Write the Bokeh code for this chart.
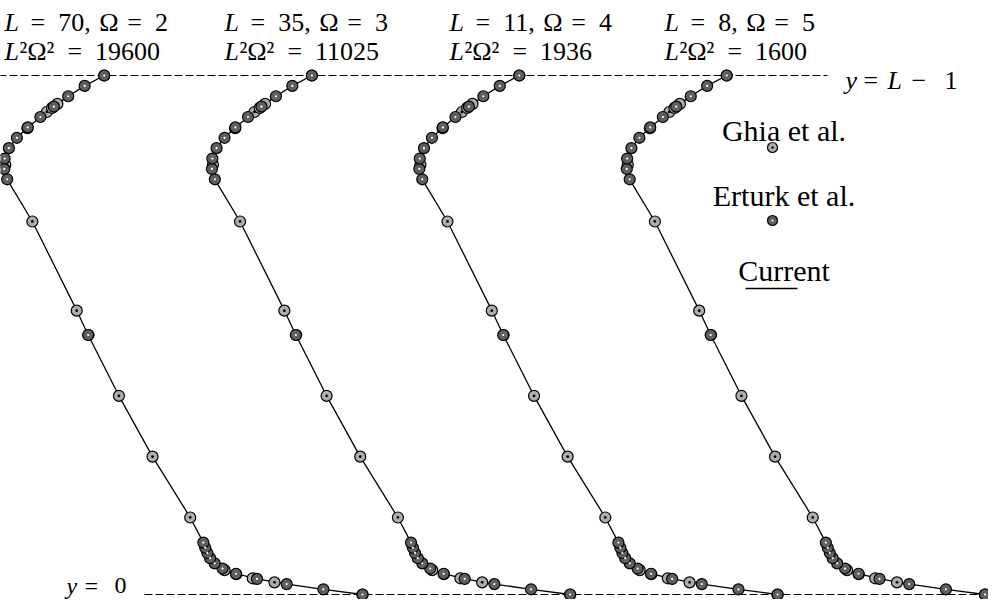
from bokeh.plotting import figure
from bokeh.models import Range1d, Label
from bokeh.embed import file_html
from bokeh.resources import INLINE

# ---- data (u-velocity profiles, y measured from the bottom wall) ----
ghia_y = [1.0000, 0.9766, 0.9688, 0.9609, 0.9531, 0.8516, 0.7344, 0.6172, 0.5000,
          0.4531, 0.2813, 0.1719, 0.1016, 0.0703, 0.0625, 0.0547, 0.0000]
ghia_u = [1.00000, 0.65928, 0.57492, 0.51117, 0.46604, 0.33304, 0.18719, 0.05702, -0.06080,
          -0.10648, -0.27805, -0.38289, -0.29730, -0.22220, -0.20196, -0.18109, 0.00000]

erturk_y = [1.000, 0.990, 0.980, 0.970, 0.960, 0.950, 0.940, 0.930, 0.920, 0.910, 0.900,
            0.500, 0.200, 0.180, 0.160, 0.140, 0.120, 0.100, 0.080, 0.060, 0.040, 0.020, 0.000]
erturk_u = [1.0000, 0.8486, 0.7065, 0.5917, 0.5102, 0.4582, 0.4276, 0.4101, 0.3993, 0.3913, 0.3838,
            -0.0620, -0.3756, -0.3869, -0.3854, -0.3690, -0.3381, -0.2960, -0.2472, -0.1951,
            -0.1392, -0.0757, 0.0000]

current_y = [0.0, 0.02, 0.04, 0.06, 0.08, 0.10, 0.12, 0.14, 0.16, 0.18, 0.20, 0.2813, 0.4531,
             0.50, 0.6172, 0.7344, 0.8516, 0.90, 0.91, 0.92, 0.93, 0.94, 0.95, 0.96, 0.97,
             0.98, 0.99, 1.0]
current_u = [0.0, -0.076, -0.139, -0.195, -0.247, -0.296, -0.338, -0.369, -0.385, -0.387,
             -0.376, -0.278, -0.106, -0.062, 0.057, 0.187, 0.333, 0.384, 0.391, 0.399, 0.410,
             0.428, 0.458, 0.510, 0.592, 0.707, 0.849, 1.0]

L_values = [70, 35, 11, 8]
omega_values = [2, 3, 4, 5]
l2o2_values = [19600, 11025, 1936, 1600]
shifts = [0.0, 0.804, 1.607, 2.41]

# ---- layout ----
W, H = 988, 599
X0_PX, UNIT_PX = 111.7, 258.3
TOP_PX, BOT_PX = 83.0, 602.0
FONT = "Liberation Serif"
LABEL_SIZE = "26px"
WALL_SIZE = "26px"
LEGEND_SIZE = "30px"
label_left_px = [12, 232, 457, 672]

EN = "\u2002"
THICK = "\u2004"


def X(px):
    return (px - X0_PX) / UNIT_PX


def Y(py):
    return (py - TOP_PX) / (BOT_PX - TOP_PX)


p = figure(width=W, height=H,
           x_range=Range1d(X(8), X(996)), y_range=Range1d(Y(607), Y(8)),
           x_axis_type=None, y_axis_type=None,
           output_backend="svg", toolbar_location=None, min_border=0)
p.grid.visible = False
p.outline_line_color = None
p.background_fill_color = "white"
p.border_fill_color = "white"

# dashed wall lines
p.line([X(6), X(835)], [0.0, 0.0], line_color="black", line_width=1.2, line_dash="8 3")
p.line([X(152), X(1010)], [1.0, 1.0], line_color="black", line_width=1.2, line_dash="8 3")

GHIA_FILL = "#adadad"
ERT_FILL = "#5f5f5f"
MS = 11

for s in shifts:
    p.line([u + s for u in current_u], current_y, line_color="black", line_width=1.3)
    p.scatter([u + s for u in ghia_u], ghia_y, marker="circle_dot", size=MS,
              fill_color=GHIA_FILL, line_color="black", line_width=1.2)
    p.scatter([u + s for u in erturk_u], erturk_y, marker="circle", size=MS,
              fill_color=ERT_FILL, line_color="black", line_width=1.2)
    p.scatter([u + s for u in erturk_u], erturk_y, marker="circle", size=2.2,
              fill_color="white", line_color=None)


def add_text(px, py, text, italic=False, size=LABEL_SIZE, align="left"):
    p.add_layout(Label(x=X(px), y=Y(py), text=text, text_font=FONT, text_font_size=size,
                       text_font_style="italic" if italic else "normal",
                       text_color="black", text_align=align, text_baseline="alphabetic"))


# profile headings
for lx, Lv, Ov, Pv in zip(label_left_px, L_values, omega_values, l2o2_values):
    add_text(lx, 30, "L", italic=True)
    add_text(lx + 13, 30, f"{EN}={EN}{Lv},{THICK}\u03a9{THICK}={EN}{Ov}")
    add_text(lx, 59, "L", italic=True)
    add_text(lx + 15, 59, f"\u00b2\u03a9\u00b2{EN}={EN}{Pv}")

# wall labels
add_text(853, 88, "y", italic=True, size=WALL_SIZE)
add_text(871, 88, "=", size=WALL_SIZE)
add_text(895, 88, "L", italic=True, size=WALL_SIZE)
add_text(919, 88, "\u2212", size=WALL_SIZE)
add_text(952, 88, "1", size=WALL_SIZE)

add_text(74, 593, "y", italic=True, size="24px")
add_text(92, 593, "=", size="24px")
add_text(122, 593, "0", size="24px")

# legend
add_text(791.5, 138, "Ghia et al.", size=LEGEND_SIZE, align="center")
add_text(791.5, 203, "Erturk et al.", size=LEGEND_SIZE, align="center")
add_text(791.5, 278, "Current", size=LEGEND_SIZE, align="center")
p.scatter([X(780)], [Y(155)], marker="circle_dot", size=10,
          fill_color=GHIA_FILL, line_color="black", line_width=1.2)
p.scatter([X(780)], [Y(228)], marker="circle", size=10,
          fill_color=ERT_FILL, line_color="black", line_width=1.2)
p.scatter([X(780)], [Y(228)], marker="circle", size=2.2, fill_color="white", line_color=None)
p.line([X(753), X(805)], [Y(296), Y(296)], line_color="black", line_width=1.5)

open("out.html", "w").write(file_html(p, INLINE))
